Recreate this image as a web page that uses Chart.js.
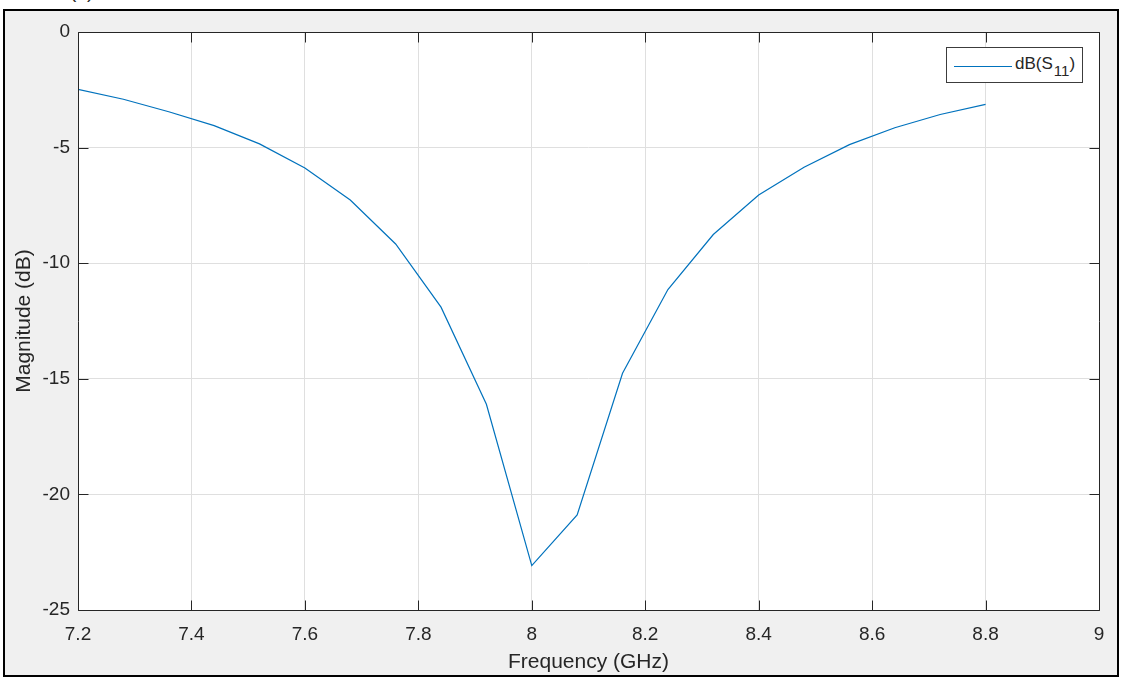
<!DOCTYPE html>
<html>
<head>
<meta charset="utf-8">
<script src="https://cdn.jsdelivr.net/npm/chart.js@4"></script>
<style>
  body { margin: 0; background: #fff; width: 1122px; height: 679px; overflow: hidden; position: relative; font-family: "Liberation Sans", Arial, sans-serif; }
  #frame { position: absolute; left: 3px; top: 9px; width: 1116px; height: 668px; box-sizing: border-box; border: 2px solid #000; background: #f0f0f0; }
  #cap { position: absolute; left: 70px; top: -17px; font-size: 19px; line-height: 18px; color: #262626; }
  #chart { position: absolute; left: 0; top: 0; }
  #legend { position: absolute; left: 946px; top: 47px; width: 137px; height: 36px; box-sizing: border-box; border: 1px solid #3c3c3c; background: #fff; font-size: 17px; color: #262626; }
  #legend .swatch { position: absolute; left: 7px; top: 18px; width: 58px; height: 0; border-top: 1px solid #0072bd; }
  #legend .lab { position: absolute; left: 68px; top: 6px; white-space: nowrap; }
  #legend sub { font-size: 15px; vertical-align: -7px; line-height: 0; margin-left: 1px; }
</style>
</head>
<body>
<div id="cap">(a)</div>
<div id="frame"></div>
<canvas id="chart" width="1122" height="679"></canvas>
<div id="legend"><span class="swatch"></span><span class="lab">dB(S<sub>11</sub>)</span></div>
<script>
// S11, one point every 0.08 GHz
var freq = [7.2, 7.28, 7.36, 7.44, 7.52, 7.6, 7.68, 7.76, 7.84, 7.92, 8.0,
            8.08, 8.16, 8.24, 8.32, 8.4, 8.48, 8.56, 8.64, 8.72, 8.8];
var s11 = [-2.48, -2.91, -3.45, -4.05, -4.84, -5.88, -7.27, -9.17, -11.9, -16.1, -23.08,
           -20.89, -14.76, -11.14, -8.76, -7.05, -5.85, -4.87, -4.14, -3.57, -3.13];
var xTicks = [7.2, 7.4, 7.6, 7.8, 8, 8.2, 8.4, 8.6, 8.8, 9];
var yTicks = [-25, -20, -15, -10, -5, 0];

var pts = [];
for (var i = 0; i < freq.length; i++) {
    pts.push({x: freq[i], y: s11[i]});
}

// box round the axes and the small inward ticks, matlab style
var axesBox = {
    id: 'axesBox',
    afterDraw: function(chart) {
        var c = chart.ctx, a = chart.chartArea;
        var xs = chart.scales.x, ys = chart.scales.y;
        var L = Math.round(a.left) + 0.5, R = Math.round(a.right) + 0.5;
        var T = Math.round(a.top) + 0.5, B = Math.round(a.bottom) + 0.5;
        c.save();
        c.strokeStyle = '#262626';
        c.lineWidth = 1;
        c.beginPath();
        c.rect(L, T, R - L, B - T);
        xTicks.forEach(function(v) {
            var px = Math.round(xs.getPixelForValue(v)) + 0.5;
            c.moveTo(px, B); c.lineTo(px, B - 10);
            c.moveTo(px, T); c.lineTo(px, T + 10);
        });
        yTicks.forEach(function(v) {
            var py = Math.round(ys.getPixelForValue(v)) + 0.5;
            c.moveTo(L, py); c.lineTo(L + 10, py);
            c.moveTo(R, py); c.lineTo(R - 10, py);
        });
        c.stroke();
        c.restore();
    }
};

var plotBg = {
    id: 'plotBg',
    beforeDraw: function(chart) {
        var a = chart.chartArea;
        chart.ctx.fillStyle = '#fff';
        chart.ctx.fillRect(a.left, a.top, a.right - a.left, a.bottom - a.top);
    }
};

Chart.defaults.font.family = '"Liberation Sans", Arial, sans-serif';
Chart.defaults.color = '#262626';

new Chart(document.getElementById('chart'), {
    type: 'line',
    data: {
        datasets: [{
            label: 'dB(S11)',
            data: pts,
            borderColor: '#0072bd',
            borderWidth: 1.2,
            pointRadius: 0,
            tension: 0,
            fill: false
        }]
    },
    options: {
        responsive: false,
        animation: false,
        layout: { padding: { left: 0, top: 32, right: 23, bottom: 0 } },
        plugins: { legend: { display: false }, tooltip: { enabled: false } },
        scales: {
            x: {
                type: 'linear',
                min: 7.2, max: 9,
                afterBuildTicks: function(s) { s.ticks = xTicks.map(function(v) { return {value: v}; }); },
                afterFit: function(s) { s.height = 69; },
                grid: { color: '#dfdfdf', drawTicks: false },
                border: { display: false },
                ticks: { font: { size: 19 }, padding: 13, maxRotation: 0, callback: function(v) { return String(v); } },
                title: { display: true, text: 'Frequency (GHz)', font: { size: 21 }, padding: { top: 0, bottom: 4 } }
            },
            y: {
                min: -25, max: 0,
                afterBuildTicks: function(s) { s.ticks = yTicks.map(function(v) { return {value: v}; }); },
                afterFit: function(s) { s.width = 78; },
                grid: { color: '#dfdfdf', drawTicks: false },
                border: { display: false },
                ticks: { font: { size: 19 }, padding: 8, callback: function(v) { return String(v); } },
                title: { display: true, text: 'Magnitude (dB)', font: { size: 21 }, padding: { top: 12, bottom: 0 } }
            }
        }
    },
    plugins: [plotBg, axesBox]
});
</script>
</body>
</html>
